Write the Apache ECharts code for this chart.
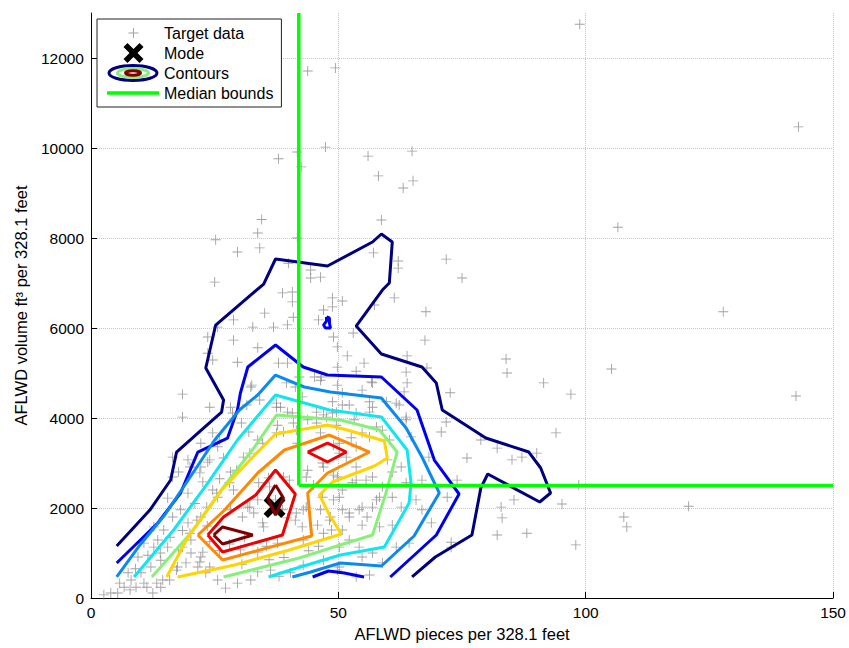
<!DOCTYPE html>
<html><head><meta charset="utf-8">
<script src="https://cdn.jsdelivr.net/npm/echarts@6/dist/echarts.min.js"></script>
<style>html,body{margin:0;padding:0;background:#fff}#c{width:849px;height:648px}</style>
</head><body><div id="c"></div>
<script>
// ---------------- data ----------------
const xTickInfo = {min: 0, max: 150, interval: 50};
const yTickInfo = {min: 0, max: 13000, interval: 2000};

const targetSparse = [
[98.8,12750],[43.8,11710],[49.4,11780],[47.4,10020],[37.9,9760],[41.7,9910],[42.5,9580],[34.5,8410],[143.0,10470],[56.0,9820],[58.1,9380],[64.9,9930],[65.1,9270],[63.1,9110],[58.7,8400],[106.5,8240],[127.8,6360],[105.2,5090],[142.5,4490],[120.8,2040],[107.7,1800],[108.3,1580],
[57.1,7670],[62.1,7490],[62.1,7330],[71.8,7530],[75.0,7110],[61.3,6670],[57.3,6510],[50.8,6600],[67.7,6360],[67.5,5730],[53.0,5890],[63.9,5380],[51.8,5380],[55.2,5220],[53.6,5040],[67.9,5110],[83.9,5310],[84.1,5000],[91.5,4780],[97.0,4530],[56.7,4800],[63.9,4780],[63.3,4580],[72.6,4560],[61.7,4330],
[33.7,8110],[25.2,7960],[29.6,7690],[34.1,7780],[41.7,8000],[25.0,7020],[39.9,7440],[44.4,7290],[46.4,7130],[44.4,7110],[38.7,6780],[40.7,6800],[40.7,6580],[35.1,6330],[28.8,6180],[40.9,6240],[32.7,6020],[36.9,6020],[39.7,6070],[25.6,6020],[23.6,5800],[28.8,5730],[48.8,6670],[48.8,6470],[47.0,6400],[46.0,6180],[49.0,5800],[49.8,5580],[23.6,5440],[24.6,5290],[29.6,5240],[33.7,5560],[37.9,5220],[39.7,5220],[18.5,4530],[32.3,4690],[41.3,4690],[46.4,4840],[49.8,5130],[28.2,4240],
[94.0,3670],[82.1,3330],[85.1,3070],[87.1,3130],[76.0,3110],[78.8,3510],[70.8,3690],[71.8,3910],[82.9,2020],[83.1,1780],[82.1,1400],[88.1,1440],[95.2,2090],[98.0,1180],[72.8,1240],[74.0,2620],[90.1,3220],[85.5,2180],[98.6,2510]
];
const targetDenseLeft = [
[18.5,4020],[24.6,3670],[16.5,3130],[17.7,2800],[22.2,2910],[23.6,3020],[26.8,3110],[22.6,2580],[19.6,2330],[24.6,2400],[28.2,2800],[30.8,3130],[33.7,3510],[31.9,3690],[38.3,4240],[39.7,4130],[40.9,3890],[37.7,3840],[38.9,3690],[41.7,3440],[43.8,3960],[47.0,4070],[48.8,4110],[46.4,3670],[49.0,3400],[43.8,2840],[47.0,2910],[49.0,2730],[45.0,2510],[49.0,2180],[46.4,1960],[42.9,1960],[41.3,1730],[45.8,1620],[48.4,1800],[47.0,1440],[42.9,1290],[37.7,1220],[33.7,1020],[30.2,1070],[34.9,1580],[32.9,1890],[31.7,2020],[28.2,1960],[25.6,2240],[28.8,2400],[33.9,2560],[35.9,2670],[38.9,2690],[37.3,2180],[33.7,2180],[22.2,1800],[19.6,1670],[20.2,1290],[17.7,1070],[20.2,1000],[22.2,910],[21.6,690],[19.2,780],[17.5,690],[23.2,560],[25.6,400],[27.2,220],[29.6,330],[32.3,400],[33.7,580],[36.3,620],[40.3,560],[42.9,730],[47.0,840],[49.8,620],[15.5,1130],[14.1,840],[12.1,690],[10.1,560],[8.1,400],[6.7,240],[10.7,330],[14.1,240],[14.5,400],[5.4,110],[4.0,110],[2.6,70],[9.1,240],[12.5,110],[16.5,1800],[14.7,1510],[18.1,1960],[13.5,1290],[12.7,1130],[7.5,560],[9.5,910],[10.7,1220],[12.7,1580],[15.5,2220],[16.5,2690],[19.6,3070],[22.2,3440],[25.6,3360]
];
const targetDenseCore = [
[20.0,2910],[22.0,2780],[24.0,3070],[26.0,3510],[30.4,3890],[37.5,4240],[42.7,4470],[50.8,4560],[54.8,4620],[56.9,4240],[53.6,4110],[49.6,4130],[45.6,3890],[41.5,3730],[37.5,3670],[34.7,3440],[32.1,3220],[29.4,2840],[28.0,2560],[25.4,2330],[23.4,2020],[21.4,1730],[20.0,1440],[18.5,1130],[22.6,1020],[22.0,800],[24.0,690],[17.3,620],[15.9,400],[13.3,330],[11.3,240],[7.9,180],[5.8,330],
[32.1,2020],[34.7,1670],[30.6,1800],[39.7,1780],[42.7,1580],[48.2,1730],[52.2,1890],[54.8,2020],[57.7,2180],[58.9,2470],[56.9,2690],[53.6,2620],[50.8,2400],[46.8,2240],[43.5,2020],[41.5,1890],[38.7,1960],[36.1,2470],[40.1,2620],[43.5,2690],[46.8,3000],[50.2,3220],[53.6,3360],[56.3,3580],[58.9,3730],
[28.0,1200],[31.0,1350],[35.5,1150],[39.0,900],[44.0,1050],[46.0,1150],[36.0,850],[30.5,750],[26.0,1050],[24.0,1250],[38.0,480],[16.0,1350],[18.5,1500],[21.0,2100],[23.5,1600],[26.0,2650],[14.0,1000],[11.5,950],[9.0,650]
];
const targetDenseRight = [
[52.2,4290],[63.7,3960],[64.7,3580],[62.7,2910],[59.9,3070],[66.9,2620],[68.3,3130],[72.0,2240],[66.9,1960],[68.8,1670],[65.7,2180],[63.7,2560],[60.9,2240],[62.7,2020],[58.3,2240],[56.9,2020],[55.8,1800],[54.2,1960],[52.2,1800],[50.8,1960],[54.8,1620],[58.3,1580],[60.9,1620],[61.7,1130],[64.3,1220],[56.9,1000],[54.2,1130],[52.2,1290],[50.2,1130],[54.8,910],[58.9,780],[50.2,690],[53.6,470],[56.3,510],[72.8,1130],[50.2,2240],[52.8,2560],[55.6,2620],[49.8,2690],[53.6,2910],[51.6,3130],[50.2,3440],[54.8,3670],[57.7,3800],[53.2,3960],[56.3,4130],[49.6,3840],[52.6,3560],[60.3,3510],[60.9,2800],[48.6,1510],[50.8,1510]
];
const targetDenseTop = [
[32.5,4730],[39.5,4780],[42.1,4910],[45.2,4910],[46.6,4910],[48.8,4360],[50.8,4290],[56.3,4360],[59.7,4360],[62.3,4290],[63.7,4020],[31.5,4290],[34.1,4400],[37.5,4330],[40.7,4110],[45.6,4130],[47.6,4020],[28.6,4110],[24.0,4240],[56.9,4780],[49.8,4730],[63.7,5020]
];
const targetData = targetSparse.concat(targetDenseLeft, targetDenseCore, targetDenseRight, targetDenseTop);

const modePoint = [[37.1, 2020]];

const contourNavy = [[5.2,1155],[11.9,1955],[16.1,2622],[17.3,3244],[21.6,3666],[26.4,4133],[26.8,4400],[23.2,5111],[25.2,6066],[34.9,6977],[37.3,7533],[47.8,7377],[56.9,7911],[58.7,8089],[60.9,7911],[60.3,7000],[58.9,6844],[53.6,6044],[58.7,5422],[66.9,5133],[69.8,4778],[71.0,4178],[79.8,3555],[88.5,3244],[90.9,2889],[92.9,2333],[90.7,2133],[80.2,2755],[78.8,2444],[77.0,1400],[69.6,911],[64.9,467]];
const contourBlue = [[5.2,778],[13.5,1667],[18.1,2333],[21.6,3244],[27.6,3555],[29.6,4178],[30.2,4555],[31.7,5133],[37.3,5622],[42.9,5133],[47.8,4955],[58.7,4911],[65.9,4178],[69.4,3066],[74.4,2311],[69.8,1400],[60.5,467]];
const contourBlueBottom = [[44.8,467],[48.0,600],[51.2,555],[55.2,467]];
const contourBlueIsland = [[47.6,6244],[48.2,6222],[48.2,6111],[48.4,6000],[47.4,6000],[47.0,6066],[47.6,6155],[47.6,6244]];
const contourLightBlue = [[5.2,467],[9.9,1178],[14.9,1844],[21.0,2844],[25.0,3511],[30.0,4178],[33.7,4511],[37.3,4955],[43.1,4689],[48.4,4578],[58.7,4444],[63.7,3778],[66.9,3133],[70.4,2333],[65.3,1378],[58.7,711],[50.4,778],[44.4,578],[40.7,467]];
const contourCyan = [[8.7,467],[16.7,1511],[23.6,2555],[29.6,3511],[37.3,4511],[48.2,4178],[58.7,4022],[63.9,3289],[64.7,2555],[64.3,2111],[59.3,1133],[50.4,955],[40.3,622],[35.9,467]];
const contourGreen = [[12.3,467],[20.2,1444],[26.8,2467],[32.9,3333],[37.5,4066],[50.4,3955],[58.3,3733],[61.9,3244],[59.5,2289],[56.9,1400],[50.4,1178],[42.1,889],[26.8,467]];
const contourYellow = [[15.3,467],[19.6,1355],[26.4,2400],[33.1,3178],[37.3,3644],[47.8,3844],[51.8,3733],[59.3,3489],[59.9,3111],[57.3,2933],[48.8,2578],[46.2,2289],[48.2,1844],[50.6,1422],[40.1,1067],[29.0,733],[17.5,467]];
const contourOrange = [[21.6,1400],[27.0,1955],[33.7,2778],[39.1,3289],[48.2,3622],[56.3,3244],[47.8,2778],[43.8,2333],[44.6,1378],[26.6,844],[21.6,1400]];
const contourRedA = [[23.6,1400],[26.6,1022],[38.7,1400],[41.3,2311],[37.3,2844],[33.3,2289],[26.8,1800],[23.6,1400]];
const contourRedB = [[43.8,3244],[47.8,3444],[51.6,3244],[47.8,3022],[43.8,3244]];
const contourDarkRedA = [[24.8,1400],[26.6,1578],[32.7,1400],[26.6,1200],[24.8,1400]];
const contourDarkRedB = [[37.3,2511],[38.9,2222],[37.3,1844],[35.7,2222],[37.3,2511]];

const medianVertical = [[42,2500],[42,13000]];
const medianHorizontal = [[42,2500],[150,2500]];

// ---------------- styling ----------------
const FONT = '"Liberation Sans", Arial, Helvetica, sans-serif';
const C = {navy:'#00007f', blue:'#0000f0', lblue:'#0a8af0', cyan:'#10e6f0', green:'#88f07a', yellow:'#ffd400', orange:'#ff8a00', red:'#f00000', dred:'#800000'};

function svgIcon(inner){
  return 'image://data:image/svg+xml;charset=utf-8,' + encodeURIComponent('<svg xmlns="http://www.w3.org/2000/svg" width="52" height="20" viewBox="0 0 52 20">' + inner + '</svg>');
}
const iconTarget = svgIcon('<path d="M21.5 10h10M26.5 5v10" stroke="#8c8c8c" stroke-width="1" fill="none"/>');
const iconMode = svgIcon('<path d="M16.5 4L20.5 0L26.5 6L32.5 0L36.5 4L30.5 10L36.5 16L32.5 20L26.5 14L20.5 20L16.5 16L22.5 10Z" fill="#000" stroke="none"/>');
const iconContours = svgIcon('<ellipse cx="26" cy="10" rx="24" ry="7.5" fill="none" stroke="'+C.navy+'" stroke-width="3"/><ellipse cx="26" cy="10" rx="15.5" ry="4.5" fill="none" stroke="'+C.green+'" stroke-width="3"/><ellipse cx="26" cy="10" rx="7.5" ry="2.2" fill="none" stroke="'+C.dred+'" stroke-width="3"/>');
const iconMedian = svgIcon('<path d="M0 10H52" stroke="#00ff00" stroke-width="3.5"/>');

function contour(data, color){
  return {type:'line', name:'Contours', data:data, showSymbol:false, symbol:'none', smooth:false,
    lineStyle:{color:color, width:3}, itemStyle:{color:color}, z:4, silent:true, clip:true};
}

const chart = echarts.init(document.getElementById('c'), null, {renderer:'svg'});
chart.setOption({
  animation:false,
  backgroundColor:'#fff',
  textStyle:{fontFamily:FONT},
  grid:{left:91, right:14, top:13, bottom:50, containLabel:false},
  xAxis:{type:'value', min:xTickInfo.min, max:xTickInfo.max, interval:xTickInfo.interval,
    name:'AFLWD pieces per 328.1 feet', nameLocation:'middle', nameGap:27,
    nameTextStyle:{color:'#000', fontSize:16.5, fontFamily:FONT},
    axisLine:{show:true, onZero:false, lineStyle:{color:'#000', width:1}},
    axisTick:{show:true, inside:true, length:6, lineStyle:{color:'#000'}},
    axisLabel:{color:'#000', fontSize:15.5, margin:6, fontFamily:FONT},
    splitLine:{show:true, lineStyle:{color:'#c8c8c8', type:'dotted', width:1}}},
  yAxis:{type:'value', min:yTickInfo.min, max:yTickInfo.max, interval:yTickInfo.interval,
    name:'AFLWD volume ft³ per 328.1 feet', nameLocation:'middle', nameGap:60,
    nameTextStyle:{color:'#000', fontSize:16.5, fontFamily:FONT},
    axisLine:{show:true, onZero:false, lineStyle:{color:'#000', width:1}},
    axisTick:{show:true, inside:true, length:6, lineStyle:{color:'#000'}},
    axisLabel:{color:'#000', fontSize:15.5, margin:7, showMaxLabel:false, fontFamily:FONT,
      formatter:function(v){ return String(v); }},
    splitLine:{show:true, showMaxLine:false, lineStyle:{color:'#c8c8c8', type:'dotted', width:1}}},
  legend:{show:true, orient:'vertical', left:97, top:19, itemWidth:52, itemHeight:20, itemGap:0,
    padding:[4,8,4,10], backgroundColor:'#fff', borderColor:'#222', borderWidth:1, borderRadius:0,
    selectedMode:false, textStyle:{color:'#000', fontSize:16, fontFamily:FONT},
    data:[{name:'Target data', icon:iconTarget},{name:'Mode', icon:iconMode},{name:'Contours', icon:iconContours},{name:'Median bounds', icon:iconMedian}]},
  series:[
    {type:'scatter', name:'Target data', data:targetData, symbol:'path://M0,4.55H10V5.45H0ZM4.55,0H5.45V10H4.55Z', symbolSize:10,
      itemStyle:{color:'#8a8a8a'}, z:1, silent:true},
    {type:'scatter', name:'Mode', data:modePoint, symbol:'path://M0,4L4,0L10,6L16,0L20,4L14,10L20,16L16,20L10,14L4,20L0,16L6,10Z', symbolSize:22,
      itemStyle:{color:'#000', opacity:1}, z:2, silent:true},
    contour(contourNavy, C.navy),
    contour(contourBlue, C.blue),
    contour(contourBlueBottom, C.blue),
    contour(contourBlueIsland, C.blue),
    contour(contourLightBlue, C.lblue),
    contour(contourCyan, C.cyan),
    contour(contourGreen, C.green),
    contour(contourYellow, C.yellow),
    contour(contourOrange, C.orange),
    contour(contourRedA, C.red),
    contour(contourRedB, C.red),
    contour(contourDarkRedA, C.dred),
    contour(contourDarkRedB, C.dred),
    {type:'line', name:'Median bounds', data:medianVertical, showSymbol:false, symbol:'none', lineStyle:{color:'#00ff00', width:3.5}, itemStyle:{color:'#00ff00'}, z:6, silent:true},
    {type:'line', name:'Median bounds', data:medianHorizontal, showSymbol:false, symbol:'none', lineStyle:{color:'#00ff00', width:3.5}, itemStyle:{color:'#00ff00'}, z:6, silent:true}
  ]
});
</script></body></html>
